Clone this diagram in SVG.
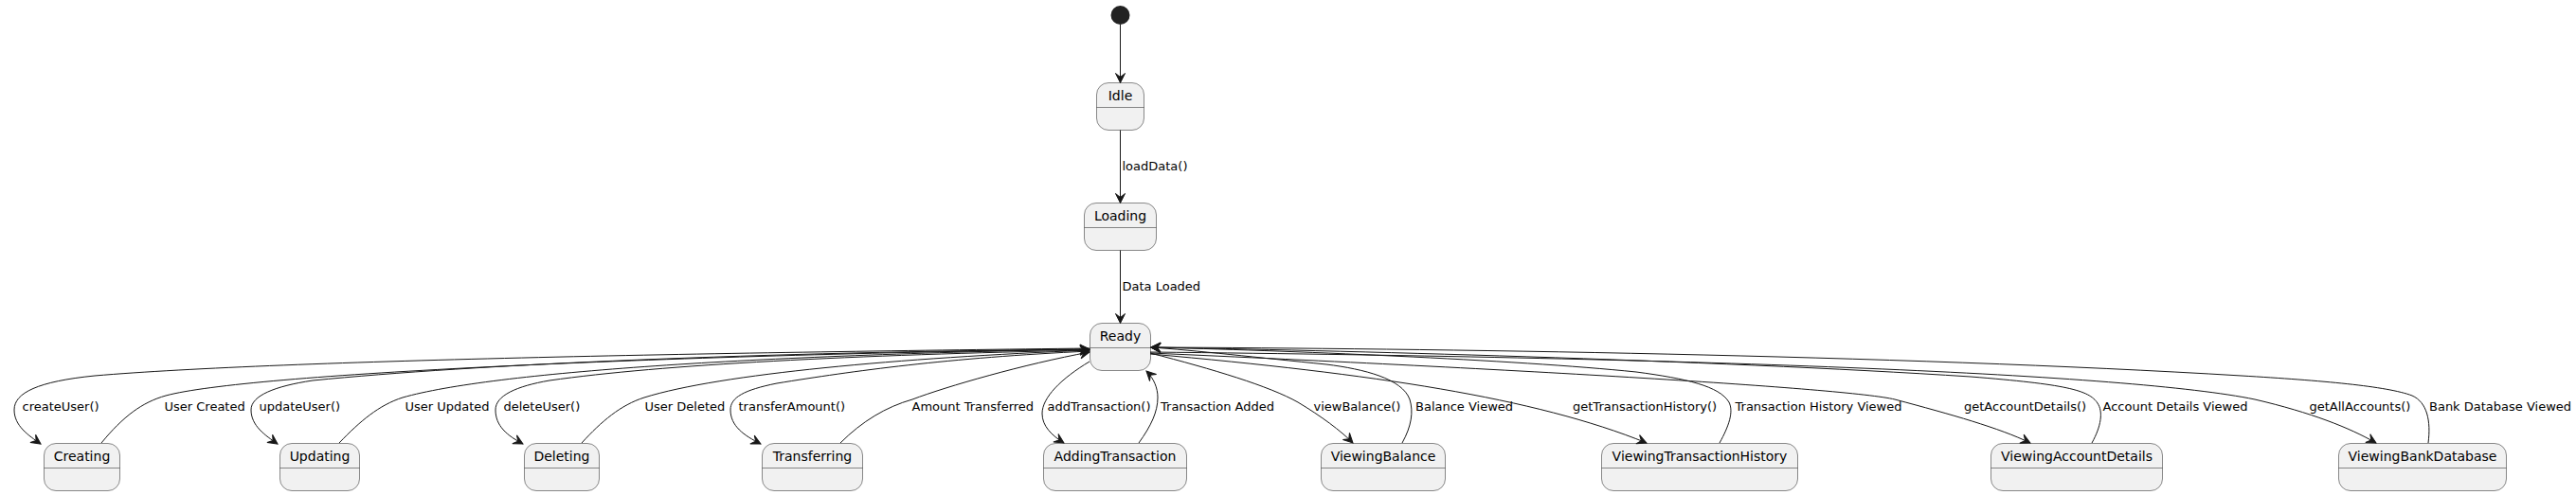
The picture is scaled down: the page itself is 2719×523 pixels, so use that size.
<svg xmlns="http://www.w3.org/2000/svg" width="2719" height="523" viewBox="0 0 2719 523">
<style>
.st rect{fill:#F1F1F1;stroke:#181818;stroke-width:0.5}
.st line{stroke:#181818;stroke-width:0.5}
.st text{font-family:"DejaVu Sans","Liberation Sans",sans-serif;font-size:14px;fill:#000;text-anchor:middle}
.cn path{fill:none;stroke:#181818;stroke-width:1;marker-end:url(#ah)}
.cn text{font-family:"DejaVu Sans","Liberation Sans",sans-serif;font-size:13px;fill:#000}
</style>
<defs>
<marker id="ah" markerUnits="userSpaceOnUse" markerWidth="16" markerHeight="16" viewBox="-12 -8 16 16" refX="0" refY="0" orient="auto">
<path d="M0,0 L-10,-5 L-6,0 L-10,5 Z" fill="#181818" stroke="#181818" stroke-width="1" stroke-linejoin="miter"/>
</marker>
</defs>
<rect width="2719" height="523" fill="#FFFFFF"/>
<g id="start"><circle cx="1182.5" cy="16" r="10" fill="#222222"/></g>
<g id="Idle" class="st"><rect x="1157.5" y="87.5" width="50" height="50" rx="12.5"/><line x1="1157.5" y1="113.5" x2="1207.5" y2="113.5"/><text x="1182.5" y="105.5">Idle</text></g>
<g id="Loading" class="st"><rect x="1144.5" y="214.5" width="76" height="50" rx="12.5"/><line x1="1144.5" y1="240.5" x2="1220.5" y2="240.5"/><text x="1182.5" y="232.5">Loading</text></g>
<g id="Ready" class="st"><rect x="1150.5" y="341.5" width="64" height="50" rx="12.5"/><line x1="1150.5" y1="367.5" x2="1214.5" y2="367.5"/><text x="1182.5" y="359.5">Ready</text></g>
<g id="Creating" class="st"><rect x="46.5" y="468.5" width="80" height="50" rx="12.5"/><line x1="46.5" y1="494.5" x2="126.5" y2="494.5"/><text x="86.5" y="486.5">Creating</text></g>
<g id="Updating" class="st"><rect x="295.5" y="468.5" width="84" height="50" rx="12.5"/><line x1="295.5" y1="494.5" x2="379.5" y2="494.5"/><text x="337.5" y="486.5">Updating</text></g>
<g id="Deleting" class="st"><rect x="553.5" y="468.5" width="79" height="50" rx="12.5"/><line x1="553.5" y1="494.5" x2="632.5" y2="494.5"/><text x="593" y="486.5">Deleting</text></g>
<g id="Transferring" class="st"><rect x="804.5" y="468.5" width="106" height="50" rx="12.5"/><line x1="804.5" y1="494.5" x2="910.5" y2="494.5"/><text x="857.5" y="486.5">Transferring</text></g>
<g id="AddingTransaction" class="st"><rect x="1101.5" y="468.5" width="151" height="50" rx="12.5"/><line x1="1101.5" y1="494.5" x2="1252.5" y2="494.5"/><text x="1177" y="486.5">AddingTransaction</text></g>
<g id="ViewingBalance" class="st"><rect x="1394.5" y="468.5" width="131" height="50" rx="12.5"/><line x1="1394.5" y1="494.5" x2="1525.5" y2="494.5"/><text x="1460" y="486.5">ViewingBalance</text></g>
<g id="ViewingTransactionHistory" class="st"><rect x="1690.5" y="468.5" width="207" height="50" rx="12.5"/><line x1="1690.5" y1="494.5" x2="1897.5" y2="494.5"/><text x="1794" y="486.5">ViewingTransactionHistory</text></g>
<g id="ViewingAccountDetails" class="st"><rect x="2101.5" y="468.5" width="181" height="50" rx="12.5"/><line x1="2101.5" y1="494.5" x2="2282.5" y2="494.5"/><text x="2192" y="486.5">ViewingAccountDetails</text></g>
<g id="ViewingBankDatabase" class="st"><rect x="2468.5" y="468.5" width="177" height="50" rx="12.5"/><line x1="2468.5" y1="494.5" x2="2645.5" y2="494.5"/><text x="2557" y="486.5">ViewingBankDatabase</text></g>
<g id="connectors" class="cn">
<path d="M1182.5,26 L1182.5,87.5"/>
<path d="M1182.5,137.5 L1182.5,214.5"/>
<text x="1184.5" y="179.5">loadData()</text>
<path d="M1182.5,264.5 L1182.5,341.5"/>
<text x="1184.5" y="306.5">Data Loaded</text>
<path d="M1150,368 C 800,372 300,380 100,397 C 40,403 15,415 15,433 C 15,450 30,460 43,469"/>
<text x="23.5" y="434">createUser()</text>
<path d="M107,468 C 130,440 150,425 175,418 C 260,395 700,375 1150,369"/>
<text x="173.5" y="434">User Created</text>
<path d="M1150,369 C 800,372 500,385 330,402 C 290,408 265,418 265,433 C 265,450 280,460 293,469"/>
<text x="273.5" y="434">updateUser()</text>
<path d="M358,468 C 380,445 400,428 425,420 C 520,393 800,375 1150,369"/>
<text x="427.5" y="434">User Updated</text>
<path d="M1150,370 C 900,375 700,385 580,402 C 545,408 523,418 523,433 C 523,450 535,460 552,469"/>
<text x="531.5" y="434">deleteUser()</text>
<path d="M614,468 C 635,445 655,428 680,420 C 760,395 950,378 1150,370"/>
<text x="680.5" y="434">User Deleted</text>
<path d="M1150,371 C 1000,378 900,392 820,405 C 785,412 771,420 771,433 C 771,450 785,460 803,469"/>
<text x="779.5" y="434">transferAmount()</text>
<path d="M887,468 C 910,445 935,430 963,422 C 1000,408 1080,385 1150,372"/>
<text x="962.5" y="434">Amount Transferred</text>
<path d="M1150,382 C 1120,400 1100,420 1100,437 C 1100,450 1110,460 1123,468"/>
<text x="1105.5" y="434">addTransaction()</text>
<path d="M1202,468 C 1215,450 1222,435 1222,420 C 1222,410 1218,400 1210,392"/>
<text x="1225" y="434">Transaction Added</text>
<path d="M1214,373 C 1280,390 1340,408 1370,425 C 1395,440 1415,455 1428,468"/>
<text x="1386.5" y="434">viewBalance()</text>
<path d="M1480,468 C 1490,450 1492,435 1488,422 C 1480,400 1440,390 1400,385 C 1330,378 1260,370 1215,367"/>
<text x="1494" y="434">Balance Viewed</text>
<path d="M1214,374 C 1450,395 1620,420 1738,468"/>
<text x="1660" y="434">getTransactionHistory()</text>
<path d="M1815,468 C 1825,450 1830,435 1825,425 C 1815,408 1780,400 1727,393 C 1600,380 1350,370 1215,367"/>
<text x="1831.5" y="434">Transaction History Viewed</text>
<path d="M1214,373 C 1600,390 1950,410 2000,422 C 2060,438 2110,452 2143,468"/>
<text x="2073" y="434">getAccountDetails()</text>
<path d="M2208,468 C 2218,450 2220,435 2214,426 C 2205,412 2180,406 2080,398 C 1800,380 1400,370 1215,367"/>
<text x="2219.5" y="434">Account Details Viewed</text>
<path d="M1214,372 C 1800,378 2250,395 2380,422 C 2440,436 2480,452 2508,468"/>
<text x="2437.5" y="434">getAllAccounts()</text>
<path d="M2563,468 C 2566,445 2562,425 2546,418 C 2520,408 2450,402 2366,397 C 2000,375 1500,368 1215,367"/>
<text x="2564" y="434">Bank Database Viewed</text>
</g>
</svg>
